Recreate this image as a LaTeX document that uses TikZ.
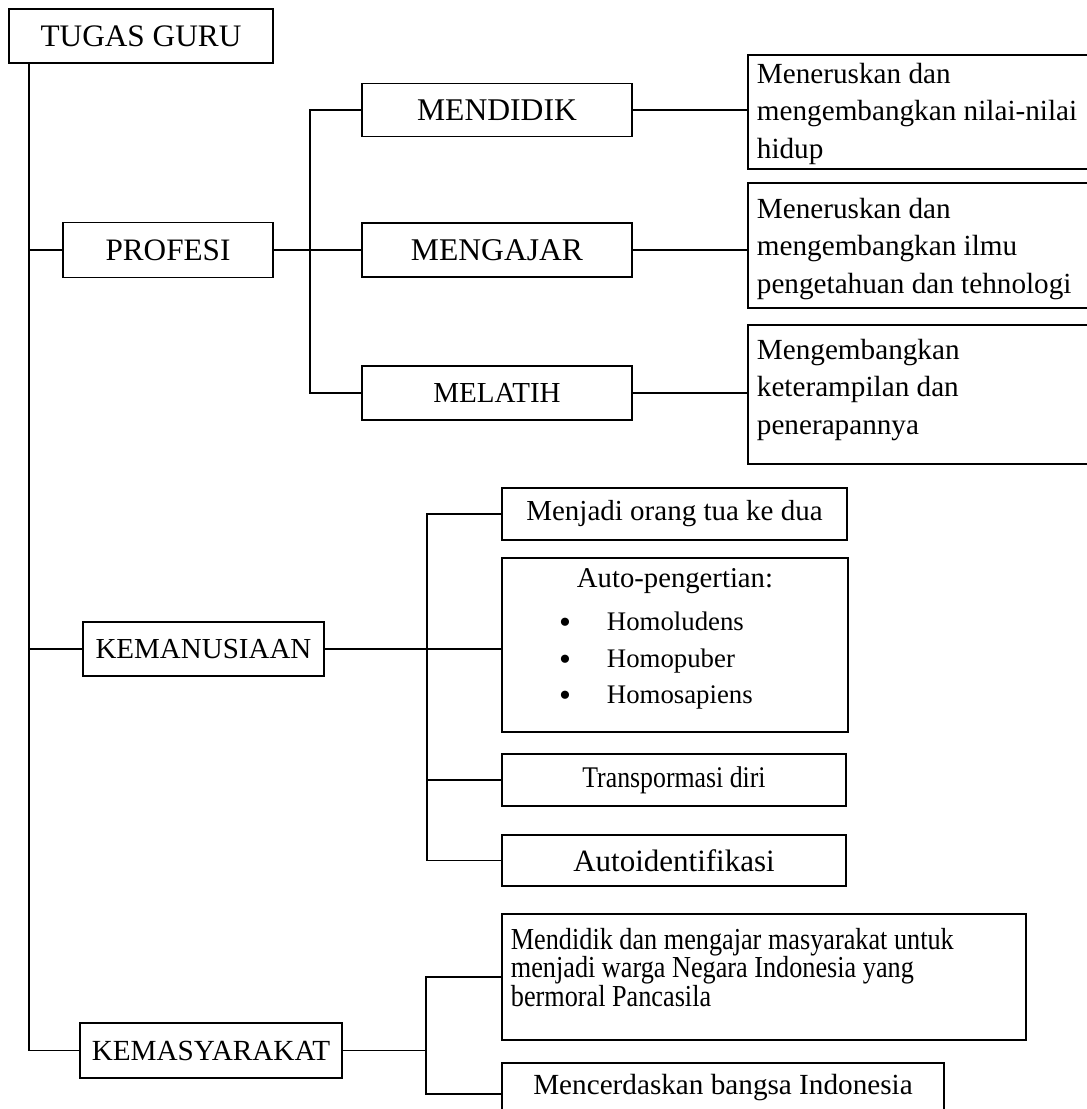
\documentclass[tikz,border=0pt]{standalone}
\usepackage{fontspec}
\setmainfont{Liberation Serif}
\newfontfamily\condfont[FakeStretch=0.86]{Liberation Serif}
\begin{document}
\begin{tikzpicture}[x=1pt,y=-1pt,line width=1.8pt,
  box/.style={draw, line width=1.8pt, inner sep=0pt, rectangle},
  fs/.style={font=\fontsize{#1pt}{#1pt}\selectfont},
  cfs/.style={font=\condfont\fontsize{#1pt}{#1pt}\selectfont},
  bul/.style={anchor=center, inner sep=0pt, font=\fontsize{34pt}{34pt}\selectfont, text height=8pt, text depth=0pt},
  rtext/.style={anchor=north west, inner sep=0pt, align=left, font=\fontsize{29.2pt}{37.8pt}\selectfont},
  mtext/.style={anchor=north west, inner sep=0pt, align=left, font=\condfont\fontsize{30.5pt}{27.5pt}\selectfont}]
\useasboundingbox (0,0) rectangle (1087,1109);
\clip (0,0) rectangle (1087,1109);

% level 0
\node[box, minimum width=264pt, minimum height=54pt, fs=31.3] (tugas) at (141,36) {TUGAS GURU};
% level 1
\node[box, minimum width=210pt, minimum height=55pt, fs=31.2] (profesi) at (168,250) {PROFESI};
\node[box, minimum width=241pt, minimum height=54pt, fs=29] (kemanusiaan) at (203.5,649) {KEMANUSIAAN};
\node[box, minimum width=262pt, minimum height=55pt, fs=29.2] (kemasy) at (211,1050.5) {KEMASYARAKAT};
% profesi children
\node[box, minimum width=270pt, minimum height=53pt, fs=31.6] (mendidik) at (497,110) {MENDIDIK};
\node[box, minimum width=270pt, minimum height=54pt, fs=31.6] (mengajar) at (497,250) {MENGAJAR};
\node[box, minimum width=270pt, minimum height=54pt, fs=29] (melatih) at (497,393) {MELATIH};
% right boxes
\node[box, minimum width=352pt, minimum height=114pt] (r1) at (924,112) {};
\node[box, minimum width=352pt, minimum height=125pt] (r2) at (924,245.5) {};
\node[box, minimum width=352pt, minimum height=139pt] (r3) at (924,394.5) {};
\node[rtext] (t1) at (756,62) {Meneruskan dan\\mengembangkan nilai-nilai\\hidup};
\node[rtext] (t2) at (756,197) {Meneruskan dan\\mengembangkan ilmu\\pengetahuan dan tehnologi};
\node[rtext] (t3) at (756,338) {Mengembangkan\\keterampilan dan\\penerapannya};
% kemanusiaan children
\node[box, minimum width=345pt, minimum height=52pt, fs=29] (menjadi) at (674.5,514) {Menjadi orang tua ke dua};
\node[box, minimum width=346pt, minimum height=174pt] (auto) at (675,645) {};
\node[anchor=base, inner sep=0pt, fs=28.7] (autoh) at (675,587) {Auto-pengertian:};
\node[bul] (b1a) at (565,629) {•};
\node[bul] (b2a) at (565,666) {•};
\node[bul] (b3a) at (565,702) {•};
\node[anchor=base west, inner sep=0pt, fs=26.8] (i1) at (606,630) {Homoludens};
\node[anchor=base west, inner sep=0pt, fs=26.8] (i2) at (606,667) {Homopuber};
\node[anchor=base west, inner sep=0pt, fs=26.8] (i3) at (606,703) {Homosapiens};
\node[box, minimum width=344pt, minimum height=52pt, cfs=30] (transp) at (674,780) {Transpormasi diri};
\node[box, minimum width=344pt, minimum height=51pt, fs=31] (autoid) at (674,860.5) {Autoidentifikasi};
% kemasyarakat children
\node[box, minimum width=524pt, minimum height=126pt] (mend2) at (764,977) {};
\node[mtext] (t4) at (510,927) {Mendidik dan mengajar masyarakat untuk\\menjadi warga Negara Indonesia yang\\bermoral Pancasila};
\node[box, minimum width=442pt, minimum height=62pt, fs=29.2, text height=20pt, text depth=20pt] (mencer) at (723,1094) {Mencerdaskan bangsa Indonesia};

% trunk
\coordinate (tr) at ([xshift=21pt]tugas.south west);
\draw (tr) -- (tr |- kemasy.west) -- (kemasy.west);
\draw (tr |- profesi.west) -- (profesi.west);
\draw (tr |- kemanusiaan.west) -- (kemanusiaan.west);

% profesi bracket
\coordinate (k1) at (310,0);
\draw (mendidik.west) -- (mendidik.west -| k1) -- (melatih.west -| k1) -- (melatih.west);
\draw (profesi.east) -- (mengajar.west);
\draw (mendidik.east) -- (mendidik.east -| r1.west);
\draw (mengajar.east) -- (mengajar.east -| r2.west);
\draw (melatih.east) -- (melatih.east -| r3.west);

% kemanusiaan bracket
\coordinate (k2) at (427,0);
\draw (menjadi.west) -- (menjadi.west -| k2) -- (autoid.west -| k2) -- (autoid.west);
\draw (kemanusiaan.east) -- (kemanusiaan.east -| auto.west);
\draw (transp.west -| k2) -- (transp.west);

% kemasyarakat bracket
\coordinate (k3) at (426,0);
\draw (mend2.west) -- (mend2.west -| k3) -- (mencer.west -| k3) -- (mencer.west);
\draw (kemasy.east) -- (kemasy.east -| k3);
\end{tikzpicture}
\end{document}
